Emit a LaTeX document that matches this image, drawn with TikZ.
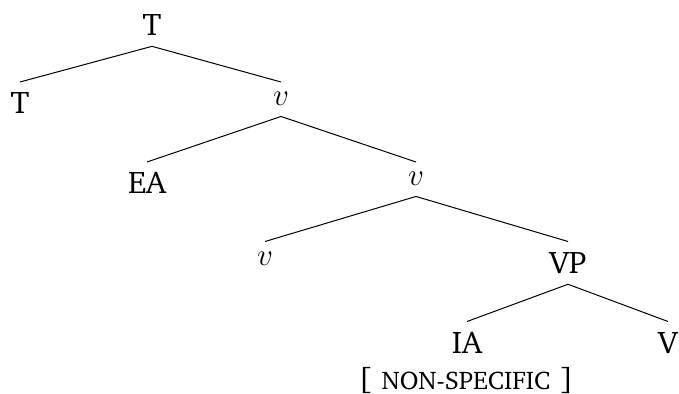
\documentclass[12pt,tikz,border=0pt]{standalone}
\usepackage{fix-cm}
\usepackage[T1]{fontenc}
\usepackage{charter}
\newcommand{\featsc}[1]{{\fontsize{10.2}{12}\selectfont #1}}
\begin{document}
\begin{tikzpicture}[x=0.4pt,y=-0.4pt,font=\fontsize{12.5}{15}\selectfont]
  \useasboundingbox (0,0) rectangle (679,393);
  \tikzset{cat/.style={inner sep=4pt,anchor=north}}

  % Nodes of the tree (anchored at their tops)
  \node[cat] (T0) at (152,4)     {T};
  \node[cat] (T1) at (20,82)     {T};
  \node[cat] (v1) at (281,82)    {$v$};
  \node[cat] (EA) at (147,162)   {EA};
  \node[cat] (v2) at (416,162)   {$v$};
  \node[cat] (v3) at (265,241.5) {$v$};
  \node[cat] (VP) at (568,241.5) {VP};
  \node[cat] (IA) at (467,321.5) {IA};
  \node[cat] (V)  at (668,321.5) {V};

  % Feature under IA
  \node (feat) at (466,381) {[\hspace{4pt}\featsc{NON-SPECIFIC}\hspace{4pt}]};

  % Branches
  \foreach \p/\c in {T0/T1,T0/v1,v1/EA,v1/v2,v2/v3,v2/VP,VP/IA,VP/V}
     {\draw (\p.south) -- (\c.north);}
\end{tikzpicture}
\end{document}
